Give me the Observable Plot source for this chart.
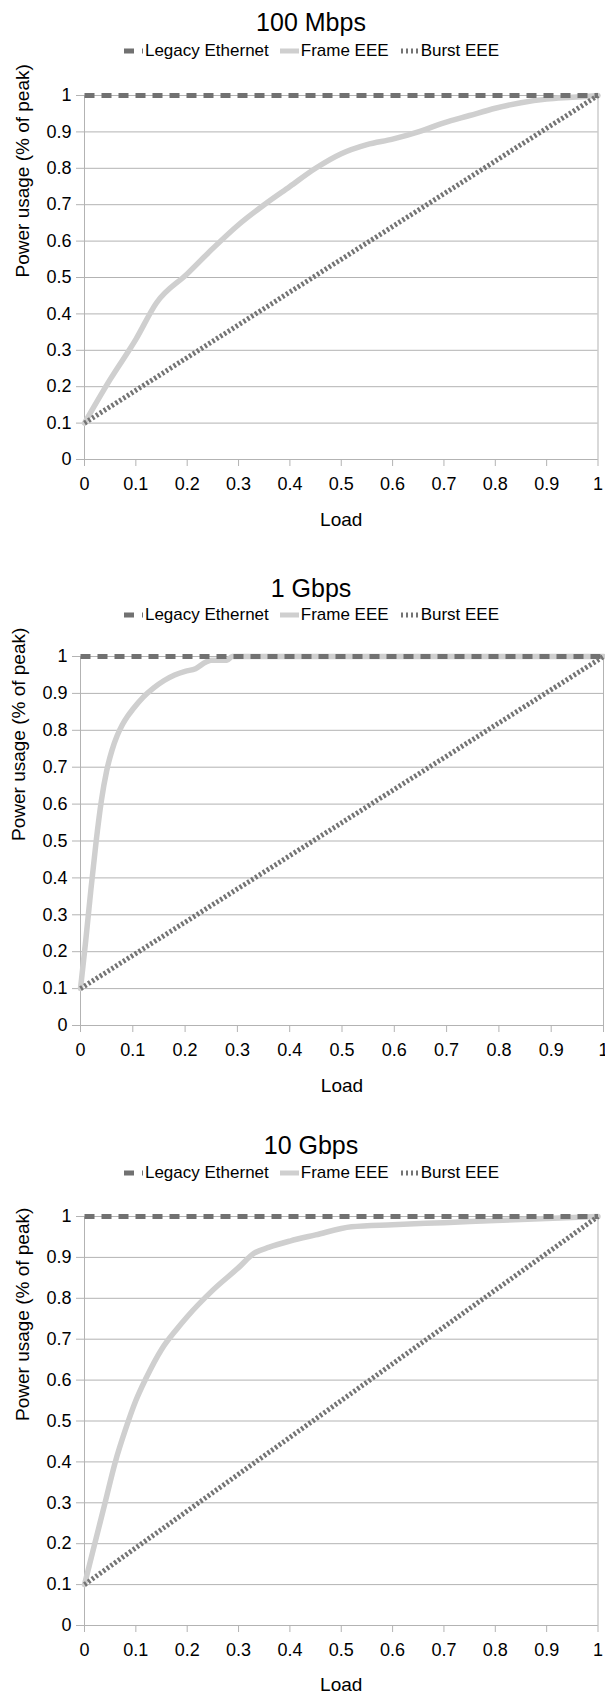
<!DOCTYPE html>
<html>
<head>
<meta charset="utf-8">
<script src="https://cdn.jsdelivr.net/npm/d3@7"></script>
<script src="https://cdn.jsdelivr.net/npm/@observablehq/plot@0.6"></script>
<style>
  html, body { margin: 0; padding: 0; background: #fff; }
  body { font-family: "Liberation Sans", Arial, sans-serif; color: #000; }
  #root { position: relative; width: 605px; height: 1697px; overflow: hidden; }
  .title { position: absolute; left: 0; width: 622px; text-align: center; font-size: 25px; line-height: 30px; }
  .legend { position: absolute; left: 0; width: 622px; display: flex; justify-content: center; align-items: center;
            font-size: 17px; line-height: 20px; white-space: nowrap; }
  .legend .item { display: flex; align-items: center; margin: 0 5px; }
  .legend svg { margin-right: 1px; }
  .chart { position: absolute; left: 0; }
</style>
</head>
<body>
<div id="root"></div>
<script>
// Power usage of Ethernet links as a function of load, three link speeds.
const panelTitles = ["100 Mbps", "1 Gbps", "10 Gbps"];
const seriesNames = ["Legacy Ethernet", "Frame EEE", "Burst EEE"];
const axisTicks = [0, 0.1, 0.2, 0.3, 0.4, 0.5, 0.6, 0.7, 0.8, 0.9, 1];

// Legacy Ethernet and Burst EEE are straight lines between the endpoints
const straightLoad = [0, 1];
const legacyPower = [1, 1];
const burstPower = [0.1, 1];

// Frame EEE, 100 Mbps
const frameLoad100M = [0, 0.05, 0.1, 0.14, 0.2, 0.25, 0.3, 0.35, 0.4, 0.45, 0.5, 0.55, 0.6, 0.65, 0.7, 0.75, 0.8, 0.85, 0.9, 0.95, 1];
const framePower100M = [0.1, 0.22, 0.33, 0.43, 0.51, 0.58, 0.645, 0.7, 0.75, 0.8, 0.84, 0.865, 0.88, 0.9, 0.925, 0.945, 0.965, 0.98, 0.99, 0.995, 1];

// Frame EEE, 1 Gbps
const frameLoad1G = [0, 0.01, 0.02, 0.03, 0.04, 0.05, 0.06, 0.07, 0.08, 0.09, 0.1, 0.12, 0.14, 0.16, 0.18, 0.2, 0.22, 0.24, 0.25, 0.28, 0.29, 1];
const framePower1G = [0.1, 0.23, 0.37, 0.5, 0.61, 0.69, 0.745, 0.785, 0.815, 0.838, 0.857, 0.89, 0.915, 0.935, 0.95, 0.96, 0.967, 0.985, 0.99, 0.99, 1, 1];

// Frame EEE, 10 Gbps
const frameLoad10G = [0, 0.02, 0.04, 0.06, 0.08, 0.1, 0.12, 0.15, 0.18, 0.2, 0.25, 0.3, 0.33, 0.36, 0.4, 0.45, 0.52, 0.6, 0.7, 0.8, 0.9, 1];
const framePower10G = [0.1, 0.2, 0.3, 0.4, 0.48, 0.55, 0.605, 0.675, 0.725, 0.755, 0.82, 0.875, 0.91, 0.925, 0.94, 0.955, 0.975, 0.98, 0.985, 0.99, 0.995, 1];

const frameLoads = [frameLoad100M, frameLoad1G, frameLoad10G];
const framePowers = [framePower100M, framePower1G, framePower10G];

// Styling and placement
const FONT = '"Liberation Sans", Arial, sans-serif';
const GRID = "#b3b3b3";
const styles = {
  "Legacy Ethernet": {stroke: "#717171", strokeWidth: 5, strokeDasharray: "10,7", strokeLinecap: "butt"},
  "Frame EEE": {stroke: "#cfcfcf", strokeWidth: 5.5},
  "Burst EEE": {stroke: "#747474", strokeWidth: 5, strokeDasharray: "2.4,2.2", strokeLinecap: "butt"}
};
const layout = [
  {titleY: 22, legendY: 51, svgTop: 75, left: 84, right: 7.5, plotH: 364, bottom: 75, loadDy: 66},
  {titleY: 588, legendY: 615, svgTop: 636, left: 80, right: 2, plotH: 369, bottom: 75, loadDy: 66},
  {titleY: 1145, legendY: 1173, svgTop: 1196, left: 84, right: 7.5, plotH: 409, bottom: 72, loadDy: 65}
];

const root = document.getElementById("root");

function swatch(name) {
  const s = styles[name];
  const svg = d3.create("svg").attr("width", 21).attr("height", 10);
  if (name === "Legacy Ethernet") {
    svg.append("line").attr("x1", 1).attr("x2", 20).attr("y1", 5).attr("y2", 5)
      .attr("stroke", s.stroke).attr("stroke-width", 5).attr("stroke-dasharray", "10,8");
  } else if (name === "Frame EEE") {
    svg.append("line").attr("x1", 1).attr("x2", 20).attr("y1", 5).attr("y2", 5)
      .attr("stroke", s.stroke).attr("stroke-width", 5);
  } else {
    svg.append("line").attr("x1", 2).attr("x2", 20).attr("y1", 5).attr("y2", 5)
      .attr("stroke", s.stroke).attr("stroke-width", 5).attr("stroke-dasharray", "2,3");
  }
  return svg.node();
}

const fmt = d => String(d);

panelTitles.forEach((title, i) => {
  const L = layout[i];

  const t = document.createElement("div");
  t.className = "title";
  t.style.top = (L.titleY - 15) + "px";
  t.textContent = title;
  root.appendChild(t);

  const lg = document.createElement("div");
  lg.className = "legend";
  lg.style.top = (L.legendY - 10) + "px";
  seriesNames.forEach(name => {
    const item = document.createElement("span");
    item.className = "item";
    item.appendChild(swatch(name));
    const label = document.createElement("span");
    label.textContent = name;
    item.appendChild(label);
    lg.appendChild(item);
  });
  root.appendChild(lg);

  const frameRows = frameLoads[i].map((x, k) => ({load: x, power: framePowers[i][k]}));
  const legacyRows = straightLoad.map((x, k) => ({load: x, power: legacyPower[k]}));
  const burstRows = straightLoad.map((x, k) => ({load: x, power: burstPower[k]}));

  const chart = Plot.plot({
    width: 605,
    height: 20 + L.plotH + L.bottom,
    marginTop: 20,
    marginBottom: L.bottom,
    marginLeft: L.left,
    marginRight: L.right,
    style: {fontFamily: FONT, fontSize: "18px", color: "#000", background: "transparent", overflow: "visible"},
    x: {domain: [0, 1]},
    y: {domain: [0, 1]},
    marks: [
      Plot.gridY(axisTicks, {stroke: GRID, strokeOpacity: 1}),
      Plot.ruleX([0, 1], {stroke: GRID}),
      Plot.ruleY([0], {stroke: GRID}),
      Plot.axisX(axisTicks, {tickSize: 7, tickPadding: 11, stroke: GRID, fill: "#000", fontSize: 18, tickFormat: fmt, label: null}),
      Plot.axisY(axisTicks, {tickSize: 8, tickPadding: 5, stroke: GRID, fill: "#000", fontSize: 18, tickFormat: fmt, label: null}),
      Plot.text(["Load"], {frameAnchor: "bottom", dy: L.loadDy, fontSize: 19, fill: "#000"}),
      Plot.text(["Power usage (% of peak)"], {frameAnchor: "left", dx: -62, rotate: -90, fontSize: 19, fill: "#000"}),
      Plot.line(frameRows, {x: "load", y: "power", curve: "monotone-x", ...styles["Frame EEE"]}),
      Plot.line(legacyRows, {x: "load", y: "power", ...styles["Legacy Ethernet"]}),
      Plot.line(burstRows, {x: "load", y: "power", ...styles["Burst EEE"]})
    ]
  });
  chart.classList.add("chart");
  chart.style.top = L.svgTop + "px";
  root.appendChild(chart);
});
</script>
</body>
</html>
